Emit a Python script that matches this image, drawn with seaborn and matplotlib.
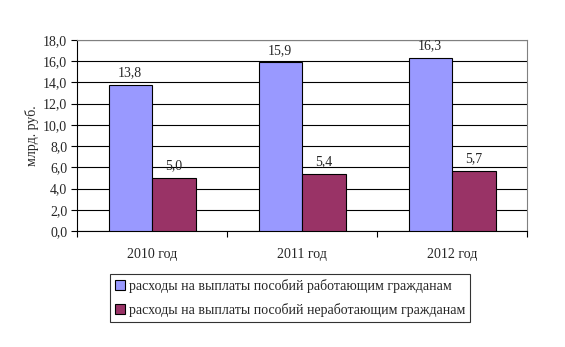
import matplotlib
matplotlib.use("Agg")
import matplotlib.pyplot as plt
import seaborn as sns
import pandas as pd
from matplotlib.ticker import MultipleLocator, FixedLocator, FuncFormatter
from matplotlib.patches import Patch

# data
years = ["2010 год", "2011 год", "2012 год"]
series_names = ["расходы на выплаты пособий работающим гражданам",
                "расходы на выплаты пособий неработающим гражданам"]
working = [13.8, 15.9, 16.3]
non_working = [5.0, 5.4, 5.7]
colors = ["#9999FF", "#993366"]

df = pd.DataFrame({
    "year": years * 2,
    "series": [series_names[0]] * 3 + [series_names[1]] * 3,
    "value": working + non_working,
})

sns.set_style("white")
plt.rcParams["font.family"] = ["Liberation Serif", "DejaVu Serif"]
fs = 10

fig = plt.figure(figsize=(5.65, 3.47), dpi=100)
ax = fig.add_axes([77 / 565, 1 - 231 / 347, 450 / 565, 191 / 347])

sns.barplot(data=df, x="year", y="value", hue="series", palette=colors,
            width=0.58, edgecolor="black", linewidth=0.8, saturation=1,
            legend=False, ax=ax, zorder=3)

comma = lambda v: f"{v:.1f}".replace(".", ",")
for cont in ax.containers:
    ax.bar_label(cont, labels=[comma(b.get_height()) for b in cont],
                 padding=4, fontsize=fs)

ax.set_ylim(0, 18)
ax.set_xlim(-0.5, 2.5)
ax.yaxis.set_major_locator(MultipleLocator(2))
ax.yaxis.set_major_formatter(FuncFormatter(lambda v, p: comma(v)))
ax.grid(axis="y", color="black", linewidth=0.8, zorder=0)
ax.set_axisbelow(True)

ax.xaxis.set_minor_locator(FixedLocator([-0.5, 0.5, 1.5, 2.5]))
ax.tick_params(axis="x", which="major", length=0, pad=12, labelsize=fs)
ax.tick_params(axis="x", which="minor", length=4, width=0.8, color="black",
               direction="out", bottom=True)
ax.tick_params(axis="y", length=4, width=0.8, color="black", direction="out",
               left=True, labelsize=fs, pad=3)

for side in ["left", "bottom"]:
    ax.spines[side].set_color("black")
    ax.spines[side].set_linewidth(0.8)
for side in ["top", "right"]:
    ax.spines[side].set_color("#808080")
    ax.spines[side].set_linewidth(0.8)

ax.set_xlabel("")
ax.set_ylabel("млрд. руб.", fontsize=fs, labelpad=3)

handles = [Patch(facecolor=c, edgecolor="black", linewidth=0.8) for c in colors]
leg = fig.legend(handles, series_names, loc="center",
                 bbox_to_anchor=(290 / 565, 1 - 298 / 347), fontsize=fs,
                 frameon=True, fancybox=False, edgecolor="black",
                 handlelength=0.7, handleheight=0.7, handletextpad=0.3,
                 borderpad=0.35, labelspacing=0.75)
leg.get_frame().set_linewidth(0.8)

fig.savefig("out.png", dpi=100)
